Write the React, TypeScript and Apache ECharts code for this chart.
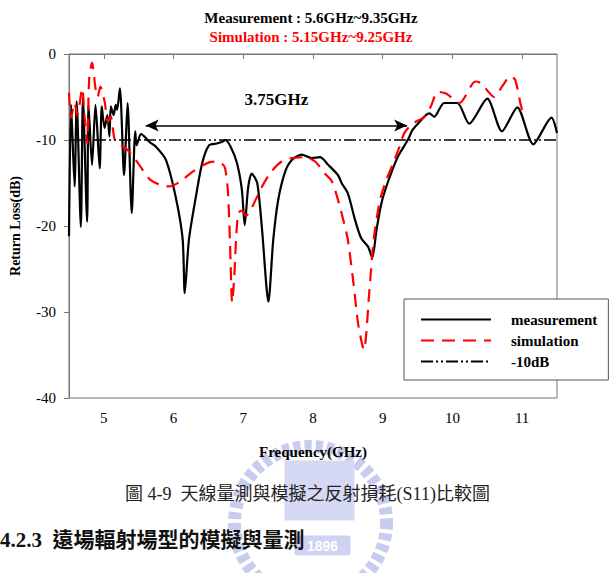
import React, { useEffect, useRef } from "react";
import * as echarts from "echarts";

// Measured return loss (GHz, dB)
const measFreq = [
  4.50, 4.53, 4.58, 4.61, 4.67, 4.70, 4.76, 4.78, 4.83, 4.88, 4.94, 4.97, 5.01, 5.05, 5.08, 5.10,
  5.14, 5.17, 5.19, 5.23, 5.29, 5.34, 5.40, 5.45, 5.47, 5.53, 5.57, 5.65, 5.75, 5.89, 6.03, 6.13,
  6.16, 6.22, 6.32, 6.41, 6.51, 6.62, 6.70, 6.74, 6.82, 6.91, 6.98, 7.02, 7.07, 7.12, 7.20, 7.27,
  7.36, 7.43, 7.50, 7.60, 7.70, 7.84, 7.98, 8.10, 8.22, 8.36, 8.41, 8.50, 8.60, 8.69, 8.79, 8.85,
  8.91, 8.98, 9.07, 9.22, 9.36, 9.43, 9.55, 9.62, 9.67, 9.74, 9.88, 10.07, 10.24, 10.50, 10.71,
  10.93, 11.16, 11.42, 11.50,
];
const measLoss = [
  -21.2, -5.9, -15.4, -5.5, -20.1, -5.1, -19.5, -5.9, -12.9, -5.9, -13.3, -6.1, -8.6, -7.1, -9.6, -6.1,
  -7.1, -5.9, -6.5, -4.0, -14.1, -5.7, -18.5, -9.0, -10.6, -9.3, -9.5, -10.2, -10.8, -12.3, -16.6, -21.5,
  -27.8, -21.6, -16.6, -12.7, -10.6, -10.4, -10.2, -10.0, -10.8, -12.7, -15.8, -19.9, -15.5, -13.9, -15.0, -20.5,
  -28.8, -21.6, -17.0, -13.7, -12.3, -11.7, -12.1, -12.0, -12.9, -14.1, -15.0, -16.2, -19.2, -21.4, -22.4, -23.7,
  -20.5, -17.4, -15.0, -11.9, -10.0, -8.8, -7.7, -7.1, -6.9, -7.3, -5.7, -5.7, -8.1, -5.2, -9.0,
  -6.2, -10.5, -7.4, -9.2,
];

// Simulated return loss (GHz, dB)
const simFreq = [
  4.50, 4.53, 4.58, 4.62, 4.69, 4.72, 4.76, 4.79, 4.83, 4.88, 4.91, 4.95, 5.01, 5.06, 5.10, 5.15,
  5.20, 5.29, 5.39, 5.50, 5.65, 5.80, 5.94, 6.10, 6.27, 6.41, 6.51, 6.60, 6.70, 6.74, 6.78, 6.81,
  6.84, 6.87, 6.90, 6.93, 6.98, 7.04, 7.12, 7.27, 7.40, 7.55, 7.70, 7.89, 8.03, 8.17, 8.27, 8.36,
  8.45, 8.50, 8.58, 8.65, 8.73, 8.81, 8.87, 8.96, 9.05, 9.15, 9.24, 9.31, 9.43, 9.60, 9.69, 9.79,
  9.91, 10.10, 10.33, 10.41, 10.60, 10.71, 10.83, 10.90, 10.98, 11.00,
];
const simLoss = [
  -4.5, -7.4, -5.7, -7.1, -4.0, -6.9, -10.4, -2.8, -1.0, -4.0, -5.0, -3.8, -5.5, -7.9, -7.3, -9.8,
  -10.4, -10.8, -11.6, -12.8, -14.5, -15.2, -15.4, -14.8, -13.7, -13.0, -12.6, -12.5, -12.8, -13.3, -16.0, -22.0,
  -28.9, -26.0, -21.0, -18.5, -18.2, -18.8, -17.9, -15.4, -13.7, -12.5, -12.1, -12.0, -12.5, -13.9, -14.8, -17.0,
  -19.8, -21.6, -26.6, -31.5, -34.4, -27.4, -21.6, -17.0, -14.7, -12.7, -10.8, -9.2, -8.1, -7.3, -6.1, -4.4,
  -4.6, -5.7, -3.2, -3.4, -5.0, -3.8, -2.6, -3.0, -5.9, -6.5,
];

// -10 dB reference
const refFreq = [4.5, 11.5];
const refLoss = [-10, -10];

// Axis ticks
const xTicks = [5, 6, 7, 8, 9, 10, 11];
const yTicks = [0, -10, -20, -30, -40];

// Measured bandwidth annotation
const bandStart = 5.6;
const bandEnd = 9.35;
const bandLevel = -8.3;
const bandLabel = "3.75GHz";

const SERIF = '"Liberation Serif", "Times New Roman", "DejaVu Serif", serif';
const CJK = '"Liberation Serif", "Noto Sans CJK TC", serif';

const App: React.FC = () => {
  const ref = useRef<HTMLDivElement>(null);

  useEffect(() => {
    if (!ref.current) return;
    const chart = echarts.init(ref.current, undefined, { renderer: "svg" });
    const pairs = (xs: number[], ys: number[]) => xs.map((x, i) => [x, ys[i]]);

    chart.setOption({
      animation: false,
      backgroundColor: "#ffffff",
      title: {
        text: "Measurement : 5.6GHz~9.35GHz",
        subtext: "Simulation : 5.15GHz~9.25GHz",
        left: 311,
        top: 10,
        textAlign: "center",
        itemGap: 4,
        padding: 0,
        textStyle: { fontFamily: SERIF, fontWeight: "bold", fontSize: 15, color: "#000" },
        subtextStyle: { fontFamily: SERIF, fontWeight: "bold", fontSize: 15, color: "#ff0000" },
      },
      grid: {
        left: 66,
        right: 58,
        top: 54,
        bottom: 175,
        show: true,
        borderColor: "#777",
        borderWidth: 1,
        backgroundColor: "transparent",
      },
      legend: {
        orient: "vertical",
        left: 404,
        top: 299,
        padding: [13, 11, 11, 16],
        itemWidth: 70,
        itemHeight: 14,
        itemGap: 6,
        backgroundColor: "#fff",
        borderColor: "#555",
        borderWidth: 1,
        borderRadius: 0,
        selectedMode: false,
        itemStyle: { opacity: 0, borderWidth: 0 },
        textStyle: {
          fontFamily: SERIF,
          fontWeight: "bold",
          fontSize: 15,
          color: "#000",
          padding: [0, 0, 0, 15],
        },
        data: ["measurement", "simulation", "-10dB"],
      },
      xAxis: {
        type: "value",
        min: 4.5,
        max: 11.5,
        name: "Frequency(GHz)",
        nameLocation: "middle",
        nameGap: 46,
        nameTextStyle: { fontFamily: SERIF, fontWeight: "bold", fontSize: 15, color: "#000" },
        axisLine: { show: true, lineStyle: { color: "#777", width: 1 } },
        axisTick: { show: true, inside: false, length: 5, lineStyle: { color: "#777" }, customValues: xTicks },
        axisLabel: { customValues: xTicks, margin: 12, fontFamily: SERIF, fontSize: 15, color: "#000" },
        splitLine: { show: false },
      },
      yAxis: {
        type: "value",
        min: -40,
        max: 0,
        interval: 10,
        name: "Return Loss(dB)",
        nameLocation: "middle",
        nameGap: 47,
        nameRotate: 90,
        nameTextStyle: { fontFamily: SERIF, fontWeight: "bold", fontSize: 14, color: "#000" },
        axisLine: { show: true, lineStyle: { color: "#777", width: 1 } },
        axisTick: { show: true, inside: false, length: 5, lineStyle: { color: "#777" }, customValues: yTicks },
        axisLabel: { customValues: yTicks, margin: 13, fontFamily: SERIF, fontSize: 15, color: "#000" },
        splitLine: { show: false },
      },
      series: [
        {
          name: "measurement",
          type: "line",
          data: pairs(measFreq, measLoss),
          showSymbol: false,
          symbol: "none",
          smooth: 0.25,
          lineStyle: { color: "#000", width: 2.2, type: "solid" },
          itemStyle: { color: "#000" },
          z: 2,
        },
        {
          name: "simulation",
          type: "line",
          data: pairs(simFreq, simLoss),
          showSymbol: false,
          symbol: "none",
          smooth: 0.25,
          lineStyle: { color: "#ff0000", width: 2.2, type: [13, 8] },
          itemStyle: { color: "#ff0000" },
          z: 3,
        },
        {
          name: "-10dB",
          type: "line",
          data: pairs(refFreq, refLoss),
          showSymbol: false,
          symbol: "none",
          lineStyle: { color: "#000", width: 1.6, type: [12, 3, 2, 3, 2, 3] },
          itemStyle: { color: "#000" },
          z: 4,
          markLine: {
            silent: true,
            symbol: ["arrow", "arrow"],
            symbolSize: [9, 13],
            lineStyle: { color: "#000", width: 1.6, type: "solid" },
            label: {
              show: true,
              position: "middle",
              formatter: bandLabel,
              distance: 17,
              fontFamily: SERIF,
              fontWeight: "bold",
              fontSize: 17,
              color: "#000",
            },
            data: [[{ coord: [bandStart, bandLevel] }, { coord: [bandEnd, bandLevel] }]],
          },
        },
      ],
      graphic: [
        {
          type: "group",
          left: 228,
          top: 440,
          z: -10,
          children: [
            {
              type: "circle",
              shape: { cx: 84, cy: 82, r: 76 },
              style: { fill: "none", stroke: "#c8ccef", lineWidth: 13, lineDash: [7, 4] },
            },
            {
              type: "rect",
              shape: { x: 58, y: 20, width: 70, height: 60 },
              style: { fill: "#d6d9f3" },
            },
            {
              type: "rect",
              shape: { x: 68, y: 95, width: 56, height: 20, r: 2 },
              style: { fill: "#cfd3f1" },
            },
            {
              type: "text",
              style: {
                text: "1896",
                x: 96,
                y: 105,
                align: "center",
                verticalAlign: "middle",
                fill: "#ffffff",
                font: "bold 14px sans-serif",
              },
            },
          ],
        },
        {
          type: "text",
          left: "center",
          top: 485,
          z: 10,
          style: {
            text: "圖 4-9  天線量測與模擬之反射損耗(S11)比較圖",
            fill: "#222",
            font: `18px ${CJK}`,
          },
        },
        {
          type: "text",
          left: 0,
          top: 529,
          z: 10,
          style: {
            text: "4.2.3  遠場輻射場型的模擬與量測",
            fill: "#111",
            font: `bold 21px ${CJK}`,
          },
        },
      ],
    });

    return () => chart.dispose();
  }, []);

  return (
    <div
      ref={ref}
      style={{ position: "fixed", left: 0, top: 0, width: 615, height: 573, background: "#fff" }}
    />
  );
};

export default App;
